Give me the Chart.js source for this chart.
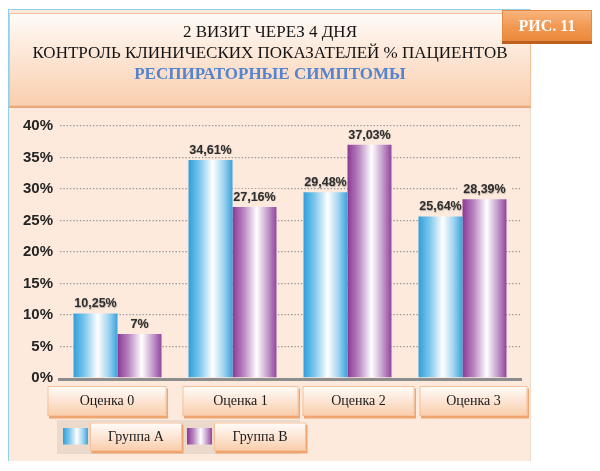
<!DOCTYPE html>
<html>
<head>
<meta charset="utf-8">
<script src="https://cdn.jsdelivr.net/npm/chart.js@4.4.1/dist/chart.umd.min.js"></script>
<style>
  html, body { margin: 0; padding: 0; background: #ffffff; }
  #wrap { position: relative; width: 600px; height: 471px; overflow: hidden; }
  #panel { position: absolute; left: 8px; top: 9px; width: 523px; height: 452px;
           background: #fdeadd; border-left: 1.5px solid #8fd0ea; border-top: 1.5px solid #8fd0ea;
           border-right: 1px solid #f0dccd; box-sizing: border-box; }
  #chart { position: absolute; left: 0; top: 0; }
  #titlebox { position: absolute; left: 9px; top: 13px; width: 522px; height: 93px; box-sizing: border-box;
              background: linear-gradient(to bottom, #fffbf8 0%, #fde6d6 45%, #f9cfae 100%);
              border: 1px solid #f3c29c; box-shadow: 0 2px 0 #eaa97c;
              font-family: "Liberation Serif", "Times New Roman", serif; color: #141414;
              text-align: center; font-size: 17px; line-height: 21px; padding-top: 7px; }
  #titlebox .l3 { font-weight: bold; color: #5384cf; }
  #badge { position: absolute; left: 502px; top: 10px; width: 90px; height: 31px; box-sizing: border-box;
           background: linear-gradient(to bottom, #f8b47e 0%, #f29a55 50%, #ec8a3c 100%);
           border: 1px solid #e58a45; box-shadow: 0 3px 0 #bf5f1c;
           font-family: "Liberation Serif", "Times New Roman", serif; font-weight: bold; font-size: 16px;
           color: #ffffff; text-align: center; line-height: 30px; }
</style>
</head>
<body>
<div id="wrap">
  <div id="panel"></div>
  <canvas id="chart" width="600" height="471"></canvas>
  <div id="titlebox">
    <div>2 ВИЗИТ ЧЕРЕЗ 4 ДНЯ</div>
    <div>КОНТРОЛЬ КЛИНИЧЕСКИХ ПОКАЗАТЕЛЕЙ % ПАЦИЕНТОВ</div>
    <div class="l3">РЕСПИРАТОРНЫЕ СИМПТОМЫ</div>
  </div>
  <div id="badge">РИС. 11</div>
</div>
<script>
// ---- data ----
const categories = ['Оценка 0', 'Оценка 1', 'Оценка 2', 'Оценка 3'];
const seriesNames = ['Группа А', 'Группа В'];
const groupA = [10.25, 34.61, 29.48, 25.64];
const groupB = [7, 27.16, 37.03, 28.39];
const yTickLabels = ['0%', '5%', '10%', '15%', '20%', '25%', '30%', '35%', '40%'];

// ---- styling ----
const PEACH = '#fdeadd';
const baseColors = ['#3aa2da', '#93449e'];
const gradStops = [
  [[0, '#2f9fdb'], [0.25, '#7cc6ec'], [0.55, '#ffffff'], [0.8, '#9fd3f0'], [1, '#3aa2da']],
  [[0, '#8b3895'], [0.25, '#b883bf'], [0.55, '#ffffff'], [0.8, '#c39ccb'], [1, '#93449e']]
];
// category box edges relative to category centre (layout only)
const boxEdges = [[-70, 49], [-50, 66], [-45, 67], [-43, 65]];

function fmt(v) { return String(v).replace('.', ',') + '%'; }

function hGrad(ctx, x0, x1, stops) {
  const g = ctx.createLinearGradient(x0, 0, x1, 0);
  stops.forEach(s => g.addColorStop(s[0], s[1]));
  return g;
}

function drawBox(ctx, x, y, w, h) {
  ctx.save();
  ctx.fillStyle = '#eea56f';
  ctx.fillRect(x + 1.5, y + 2.5, w, h);
  const g = ctx.createLinearGradient(0, y, 0, y + h);
  g.addColorStop(0, '#fffdfb');
  g.addColorStop(0.45, '#fde7d7');
  g.addColorStop(1, '#f9cdab');
  ctx.fillStyle = g;
  ctx.fillRect(x, y, w, h);
  ctx.strokeStyle = '#f5c19a';
  ctx.lineWidth = 1;
  ctx.strokeRect(x + 0.5, y + 0.5, w - 1, h - 1);
  ctx.restore();
}

function labelRect(chart) {
  const out = [];
  const ctx = chart.ctx;
  ctx.save();
  ctx.font = 'bold 12.5px "Liberation Sans", Arial, sans-serif';
  chart.data.datasets.forEach((ds, di) => {
    const meta = chart.getDatasetMeta(di);
    meta.data.forEach((el, i) => {
      const p = el.getProps(['x', 'y'], true);
      const t = fmt(ds.data[i]);
      const w = ctx.measureText(t).width;
      out.push({ t, x: p.x, y: p.y - 6, w });
    });
  });
  ctx.restore();
  return out;
}

const decor = {
  id: 'decor',
  beforeDatasetsDraw(chart) {
    const ctx = chart.ctx;
    // bar gradients (each element has its own options object because the colour is scriptable)
    chart.data.datasets.forEach((ds, di) => {
      const meta = chart.getDatasetMeta(di);
      meta.data.forEach(el => {
        const p = el.getProps(['x', 'width'], true);
        const g = hGrad(ctx, p.x - p.width / 2, p.x + p.width / 2, gradStops[di]);
        try { el.options.backgroundColor = g; }
        catch (e) { el.options = Object.assign({}, el.options, { backgroundColor: g }); }
      });
    });
    // label backgrounds that interrupt the dotted grid
    ctx.save();
    ctx.fillStyle = PEACH;
    labelRect(chart).forEach(l => {
      ctx.fillRect(l.x - l.w / 2 - 6, l.y - 12, l.w + 12, 13);
    });
    ctx.restore();
  },
  afterDatasetsDraw(chart) {
    const ctx = chart.ctx;
    const ca = chart.chartArea;
    const xs = chart.scales.x, ys = chart.scales.y;
    // baseline
    const y0 = ys.getPixelForValue(0);
    ctx.save();
    ctx.strokeStyle = '#8d8d8d';
    ctx.lineWidth = 3;
    ctx.beginPath();
    ctx.moveTo(ca.left - 2, y0 + 1.5);
    ctx.lineTo(ca.right + 2, y0 + 1.5);
    ctx.stroke();
    // value labels
    ctx.font = 'bold 12.5px "Liberation Sans", Arial, sans-serif';
    ctx.textAlign = 'center';
    ctx.textBaseline = 'alphabetic';
    ctx.fillStyle = '#2e2e2e';
    ctx.shadowColor = 'rgba(0,0,0,0.3)';
    ctx.shadowBlur = 1.2;
    ctx.shadowOffsetX = 0.5;
    ctx.shadowOffsetY = 0.5;
    labelRect(chart).forEach(l => ctx.fillText(l.t, l.x, l.y));
    ctx.restore();

    // category boxes & labels
    const by = ca.bottom + 8;
    const bh = 30;
    categories.forEach((c, i) => {
      const cx = xs.getPixelForValue(i);
      const x0 = cx + boxEdges[i][0], x1 = cx + boxEdges[i][1];
      drawBox(ctx, x0, by, x1 - x0, bh);
      ctx.save();
      ctx.font = '14px "Liberation Serif", "Times New Roman", serif';
      ctx.fillStyle = '#1a1a1a';
      ctx.textAlign = 'center';
      ctx.textBaseline = 'middle';
      ctx.fillText(c, (x0 + x1) / 2, by + bh / 2 + 0.5);
      ctx.restore();
    });

    // legend
    const ly = by + bh + 4;
    ctx.save();
    ctx.fillStyle = '#ebd9cb';
    ctx.fillRect(ca.left - 3, ly, 243, 34);
    ctx.restore();
    chart.data.datasets.forEach((ds, di) => {
      const sx = ca.left + 3 + di * 124;
      ctx.save();
      ctx.fillStyle = hGrad(ctx, sx, sx + 25, gradStops[di]);
      ctx.fillRect(sx, ly + 8, 25, 16.5);
      ctx.restore();
      const bx = sx + 27;
      drawBox(ctx, bx, ly + 2.5, 92, 28.5);
      ctx.save();
      ctx.font = '14px "Liberation Serif", "Times New Roman", serif';
      ctx.fillStyle = '#1a1a1a';
      ctx.textAlign = 'center';
      ctx.textBaseline = 'middle';
      ctx.fillText(ds.label, bx + 46, ly + 17);
      ctx.restore();
    });
  }
};

new Chart(document.getElementById('chart'), {
  type: 'bar',
  data: {
    labels: categories,
    datasets: [
      { label: seriesNames[0], data: groupA, backgroundColor: (c) => baseColors[0] },
      { label: seriesNames[1], data: groupB, backgroundColor: (c) => baseColors[1] }
    ]
  },
  options: {
    responsive: false,
    animation: false,
    devicePixelRatio: 1,
    layout: { padding: { left: 0, right: 80, top: 126, bottom: 93 } },
    datasets: { bar: { categoryPercentage: 0.765, barPercentage: 1, borderWidth: 0 } },
    plugins: { legend: { display: false }, title: { display: false }, tooltip: { enabled: false } },
    scales: {
      x: { display: false },
      y: {
        min: 0, max: 40,
        afterFit(s) { s.width = 60; },
        ticks: {
          stepSize: 5,
          padding: 7,
          color: '#242424',
          font: { family: '"Liberation Sans", Arial, sans-serif', weight: 'bold', size: 15 },
          callback: (v, i) => yTickLabels[i]
        },
        grid: {
          drawTicks: false,
          lineWidth: 1.3,
          color: c => (c.tick && c.tick.value === 0) ? 'rgba(0,0,0,0)' : '#9c9c9c'
        },
        border: { display: false, dash: [1.5, 1.8] }
      }
    }
  },
  plugins: [decor]
});
</script>
</body>
</html>
